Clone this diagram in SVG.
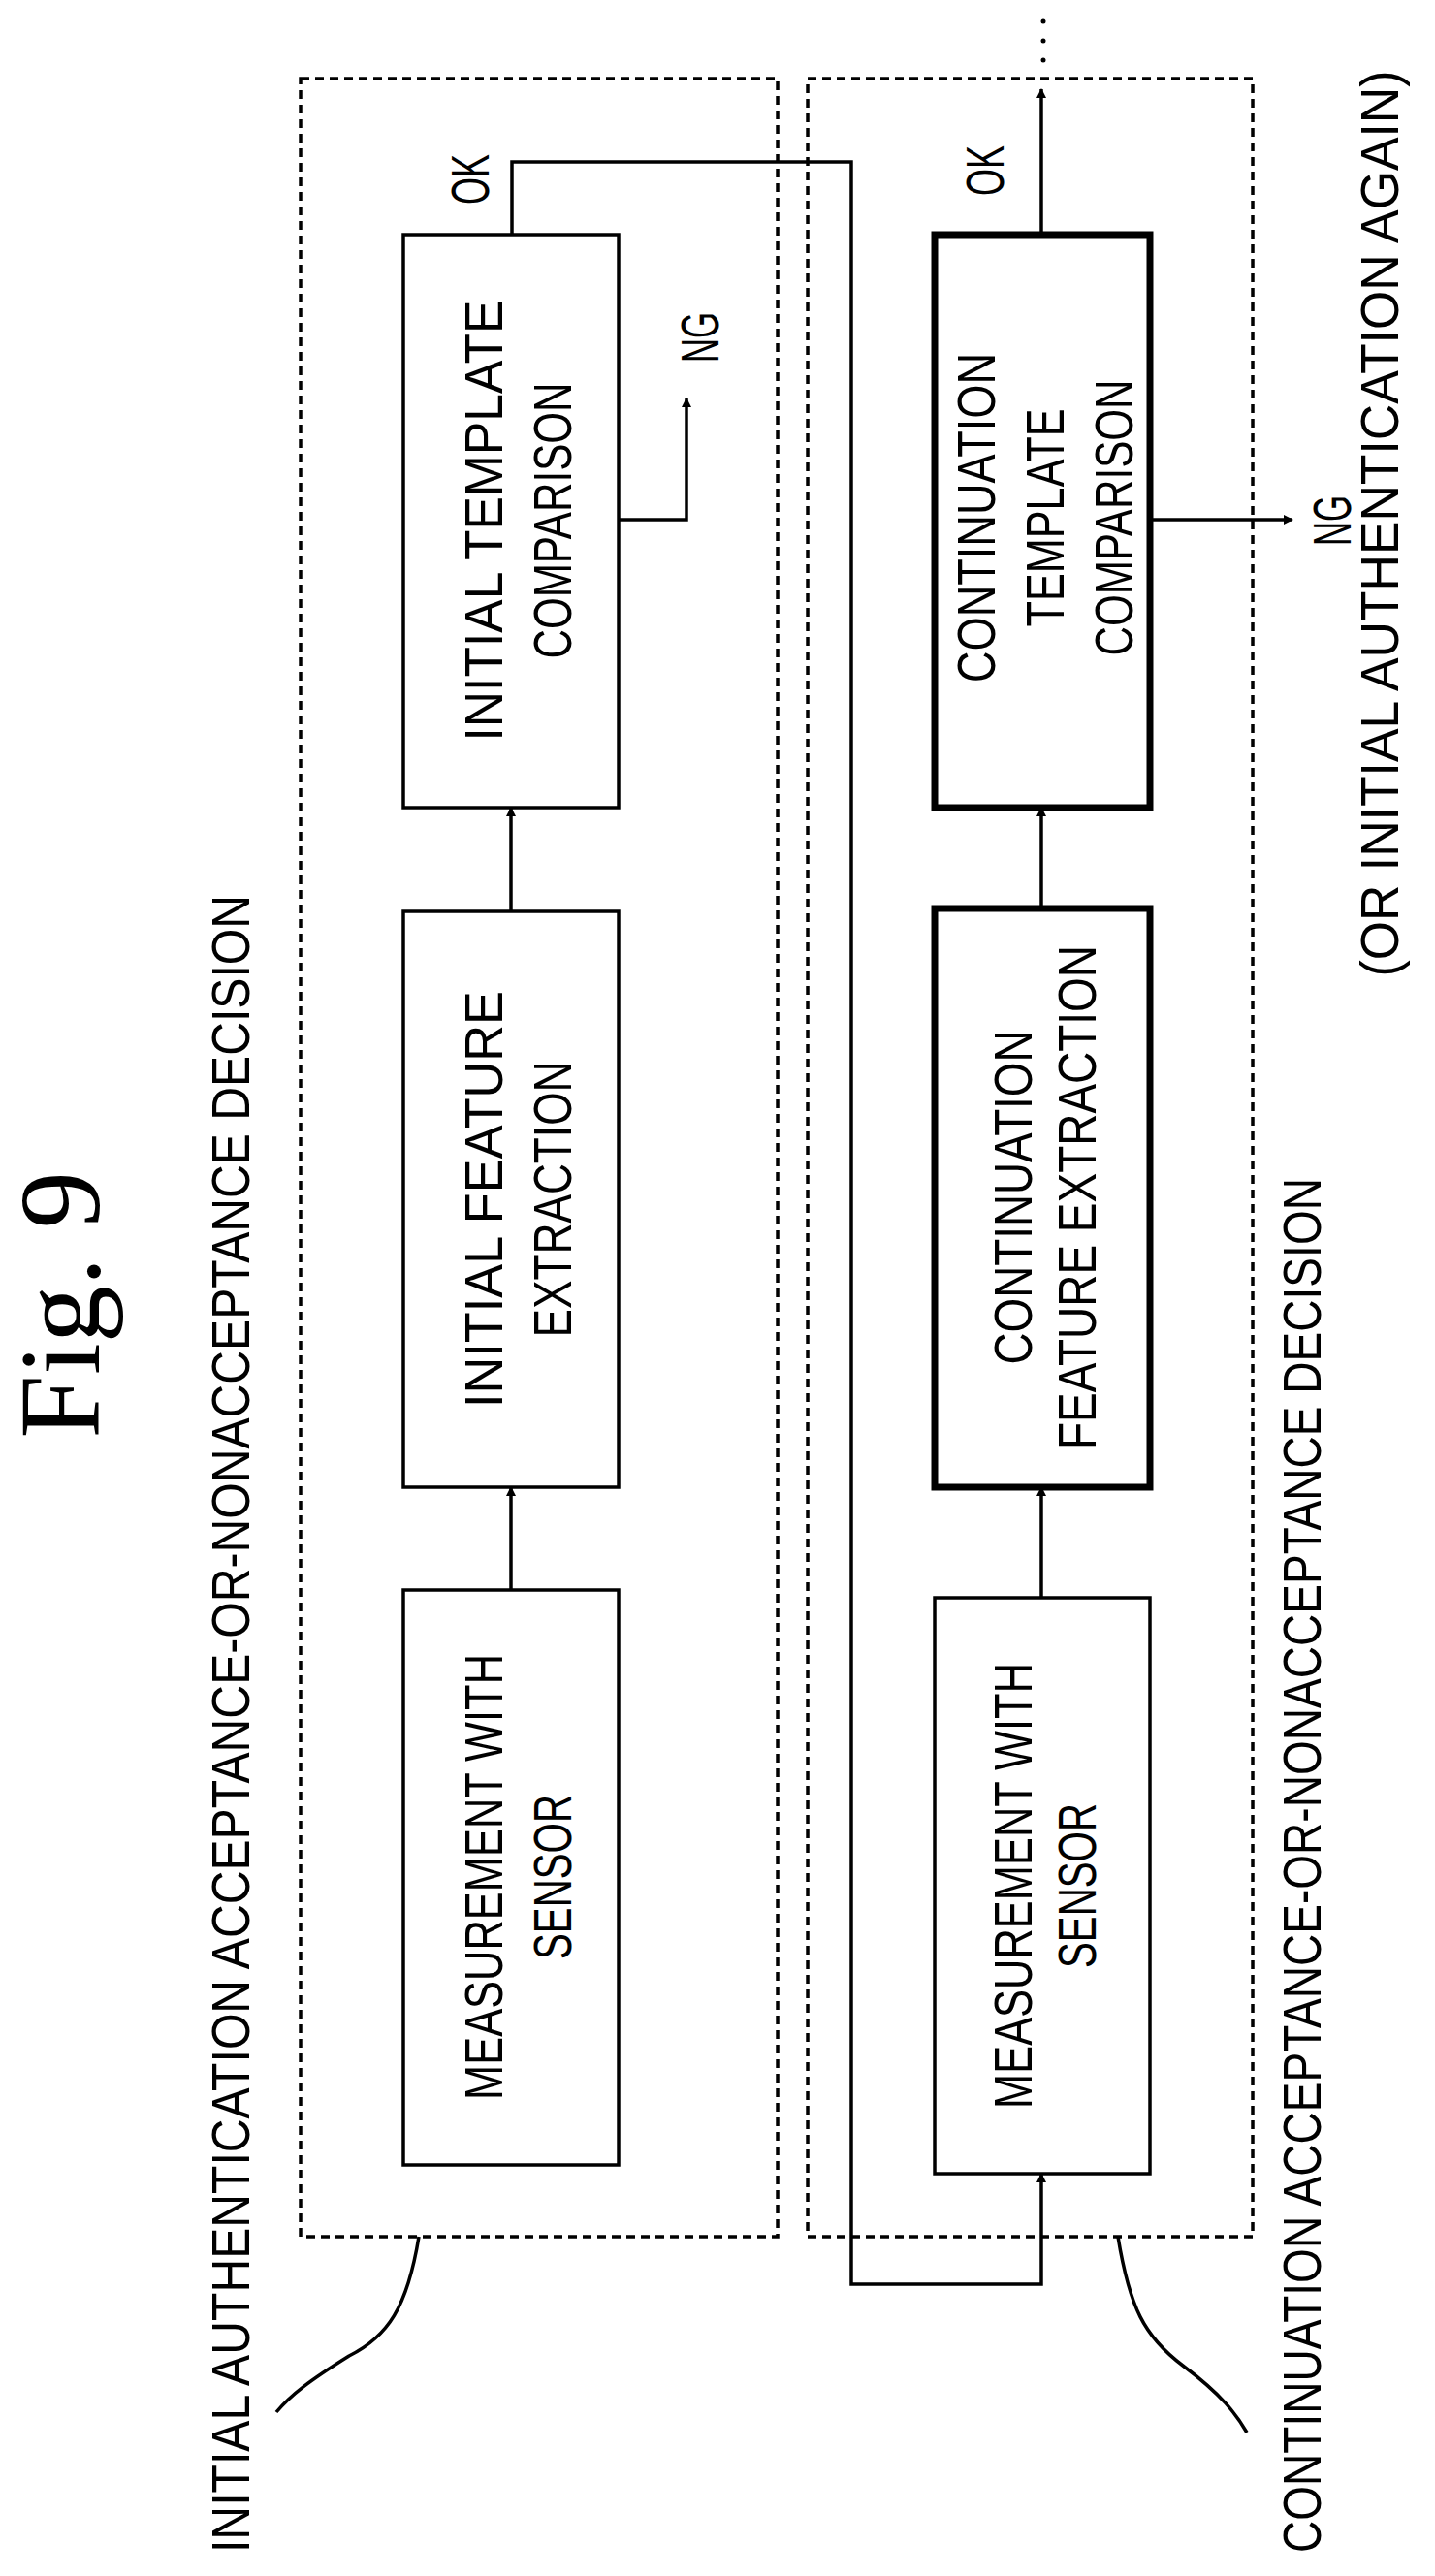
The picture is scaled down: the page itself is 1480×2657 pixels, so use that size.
<svg xmlns="http://www.w3.org/2000/svg" width="1480" height="2657" viewBox="0 0 1480 2657">
<style>
.t{font-family:"Liberation Sans",Arial,sans-serif;font-size:56px;fill:#000;text-anchor:middle}
.box{fill:#fff;stroke:#000;stroke-width:3.5}
.thick{fill:#fff;stroke:#000;stroke-width:7}
.dash{fill:none;stroke:#000;stroke-width:3.5;stroke-dasharray:9,6}
.ln{fill:none;stroke:#000;stroke-width:3.5}
</style>
<defs>
<marker id="ah" markerWidth="10" markerHeight="10" refX="9" refY="5" orient="auto" markerUnits="userSpaceOnUse" viewBox="0 0 10 10"><path d="M0,0 L10,5 L0,10 z" fill="#000"/></marker>
</defs>
<rect width="1480" height="2657" fill="#fff"/>
<text transform="translate(102,1346) rotate(-90)" font-family="Liberation Serif,serif" font-size="118" text-anchor="middle">Fig. 9</text>
<g id="group1"><rect class="dash" x="310" y="81" width="492" height="2226"/>
<path class="ln" d="M432,2307 C420,2380 400,2410 360,2430 C320,2455 300,2470 285,2488"/>
<text class="t" transform="translate(257,1778) rotate(-90)" textLength="1710" lengthAdjust="spacingAndGlyphs">INITIAL AUTHENTICATION ACCEPTANCE-OR-NONACCEPTANCE DECISION</text></g>
<g id="group2"><rect class="dash" x="833" y="81" width="459" height="2226"/>
<path class="ln" d="M1153,2307 C1165,2380 1180,2410 1220,2440 C1260,2470 1275,2490 1286,2509"/>
<text class="t" transform="translate(1362,1924) rotate(-90)" textLength="1418" lengthAdjust="spacingAndGlyphs">CONTINUATION ACCEPTANCE-OR-NONACCEPTANCE DECISION</text></g>
<g id="n1"><rect class="box" x="416" y="1640" width="222" height="593"/>
<text class="t" transform="translate(518,1936) rotate(-90)" textLength="460" lengthAdjust="spacingAndGlyphs">MEASUREMENT WITH</text>
<text class="t" transform="translate(589,1936) rotate(-90)" textLength="170" lengthAdjust="spacingAndGlyphs">SENSOR</text></g>
<g id="n2"><rect class="box" x="416" y="940" width="222" height="594"/>
<text class="t" transform="translate(518,1237) rotate(-90)" textLength="430" lengthAdjust="spacingAndGlyphs">INITIAL FEATURE</text>
<text class="t" transform="translate(589,1237) rotate(-90)" textLength="285" lengthAdjust="spacingAndGlyphs">EXTRACTION</text></g>
<g id="n3"><rect class="box" x="416" y="242" width="222" height="591"/>
<text class="t" transform="translate(518,537) rotate(-90)" textLength="455" lengthAdjust="spacingAndGlyphs">INITIAL TEMPLATE</text>
<text class="t" transform="translate(589,537) rotate(-90)" textLength="285" lengthAdjust="spacingAndGlyphs">COMPARISON</text></g>
<g id="n4"><rect class="box" x="964" y="1648" width="222" height="594"/>
<text class="t" transform="translate(1064,1945) rotate(-90)" textLength="460" lengthAdjust="spacingAndGlyphs">MEASUREMENT WITH</text>
<text class="t" transform="translate(1130,1945) rotate(-90)" textLength="170" lengthAdjust="spacingAndGlyphs">SENSOR</text></g>
<g id="n5"><rect class="thick" x="964" y="937" width="222" height="597"/>
<text class="t" transform="translate(1064,1235) rotate(-90)" textLength="345" lengthAdjust="spacingAndGlyphs">CONTINUATION</text>
<text class="t" transform="translate(1130,1235) rotate(-90)" textLength="520" lengthAdjust="spacingAndGlyphs">FEATURE EXTRACTION</text></g>
<g id="n6"><rect class="thick" x="964" y="242" width="222" height="591"/>
<text class="t" transform="translate(1026,534) rotate(-90)" textLength="340" lengthAdjust="spacingAndGlyphs">CONTINUATION</text>
<text class="t" transform="translate(1097,534) rotate(-90)" textLength="225" lengthAdjust="spacingAndGlyphs">TEMPLATE</text>
<text class="t" transform="translate(1168,534) rotate(-90)" textLength="285" lengthAdjust="spacingAndGlyphs">COMPARISON</text></g>
<g id="connectors">
<path class="ln" d="M527,1640 V1534" marker-end="url(#ah)"/>
<path class="ln" d="M527,940 V833" marker-end="url(#ah)"/>
<path class="ln" d="M1074,1648 V1534" marker-end="url(#ah)"/>
<path class="ln" d="M1074,937 V833" marker-end="url(#ah)"/>
<path class="ln" d="M638,536 H708 V411" marker-end="url(#ah)"/>
<path class="ln" d="M528,242 V167 H878 V2356 H1074 V2242" marker-end="url(#ah)"/>
<path class="ln" d="M1074,242 V92" marker-end="url(#ah)"/>
<path class="ln" d="M1186,536 H1333" marker-end="url(#ah)"/>
<circle cx="1076" cy="22" r="2.5"/><circle cx="1076" cy="42" r="2.5"/><circle cx="1076" cy="62" r="2.5"/>
</g>
<g id="labels">
<text class="t" transform="translate(504,185) rotate(-90)" textLength="52" lengthAdjust="spacingAndGlyphs">OK</text>
<text class="t" transform="translate(1035,176) rotate(-90)" textLength="52" lengthAdjust="spacingAndGlyphs">OK</text>
<text class="t" transform="translate(741,348) rotate(-90)" textLength="52" lengthAdjust="spacingAndGlyphs">NG</text>
<text class="t" transform="translate(1393,537) rotate(-90)" textLength="52" lengthAdjust="spacingAndGlyphs">NG</text>
<text class="t" transform="translate(1442,540) rotate(-90)" font-size="50" textLength="935" lengthAdjust="spacingAndGlyphs">(OR INITIAL AUTHENTICATION AGAIN)</text>
</g>
</svg>
